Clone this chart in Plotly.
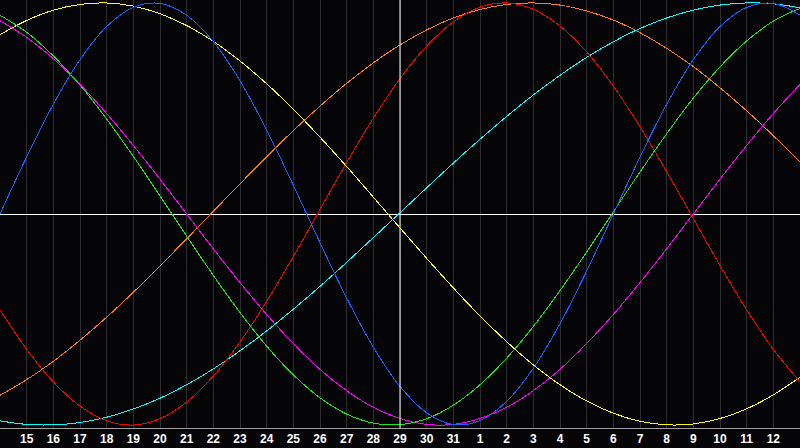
import plotly.graph_objects as go

# day index 0..30 across the chart; label for each day
day_labels = [14, 15, 16, 17, 18, 19, 20, 21, 22, 23, 24, 25, 26, 27, 28, 29, 30, 31,
              1, 2, 3, 4, 5, 6, 7, 8, 9, 10, 11, 12, 13]
days = list(range(31))

physical = [0, 0.27, 0.52, 0.731, 0.888, 0.979, 0.998, 0.942, 0.817, 0.631, 0.398, 0.136,
            -0.136, -0.398, -0.631, -0.817, -0.942, -0.998, -0.979, -0.888, -0.731, -0.52,
            -0.27, 0, 0.27, 0.52, 0.731, 0.888, 0.979, 0.998, 0.942]
emotional = [-0.454, -0.641, -0.796, -0.91, -0.98, -1, -0.97, -0.891, -0.768, -0.606, -0.414,
             -0.201, 0.022, 0.244, 0.454, 0.641, 0.796, 0.91, 0.98, 1, 0.97, 0.891, 0.768,
             0.606, 0.414, 0.201, -0.022, -0.244, -0.454, -0.641, -0.796]
intellectual = [0.942, 0.861, 0.749, 0.611, 0.45, 0.273, 0.086, -0.105, -0.291, -0.467, -0.626,
                -0.762, -0.871, -0.948, -0.991, -0.998, -0.97, -0.906, -0.809, -0.683, -0.533,
                -0.363, -0.18, 0.01, 0.199, 0.38, 0.549, 0.697, 0.82, 0.914, 0.974]
intuitive = [0.916, 0.837, 0.736, 0.614, 0.476, 0.325, 0.165, 0, -0.165, -0.325, -0.476, -0.614,
             -0.736, -0.837, -0.916, -0.969, -0.997, -0.997, -0.969, -0.916, -0.837, -0.736,
             -0.614, -0.476, -0.325, -0.165, 0, 0.165, 0.325, 0.476, 0.614]
aesthetic = [0.85, 0.917, 0.966, 0.993, 1, 0.985, 0.949, 0.893, 0.818, 0.725, 0.617, 0.496,
             0.364, 0.225, 0.08, -0.066, -0.21, -0.35, -0.483, -0.605, -0.715, -0.809, -0.886,
             -0.944, -0.982, -0.999, -0.995, -0.969, -0.923, -0.857, -0.773]
awareness = [-0.859, -0.785, -0.698, -0.598, -0.489, -0.371, -0.246, -0.118, 0.013, 0.143,
             0.271, 0.395, 0.511, 0.619, 0.716, 0.801, 0.872, 0.929, 0.969, 0.993, 1, 0.99,
             0.962, 0.919, 0.859, 0.785, 0.698, 0.598, 0.489, 0.371, 0.246]
spiritual = [-0.98, -0.997, -0.999, -0.988, -0.963, -0.924, -0.873, -0.809, -0.734, -0.648,
             -0.554, -0.451, -0.343, -0.229, -0.112, 0.006, 0.124, 0.241, 0.354, 0.462, 0.564,
             0.657, 0.742, 0.816, 0.879, 0.929, 0.966, 0.99, 1, 0.996, 0.977]

series = [
    ("Awareness", awareness, "#ff8000"),
    ("Aesthetic", aesthetic, "#ffff00"),
    ("Spiritual", spiritual, "#00ffff"),
    ("Emotional", emotional, "#ff0000"),
    ("Intuitive", intuitive, "#ff00ff"),
    ("Intellectual", intellectual, "#1ee61e"),
    ("Physical", physical, "#1464ff"),
]

fig = go.Figure()
for name, vals, color in series:
    fig.add_trace(go.Scatter(x=days, y=vals, mode="lines", name=name,
                             line=dict(color=color, width=1, shape="spline", smoothing=1.0),
                             hoverinfo="skip"))

bg = "#050508"
fig.update_layout(
    width=800, height=448,
    margin=dict(l=0, r=0, t=0, b=20, pad=0),
    paper_bgcolor=bg, plot_bgcolor=bg,
    showlegend=False,
    xaxis=dict(range=[0, 30], tickmode="array", tickvals=days[1:30],
               ticktext=[str(d) for d in day_labels[1:30]],
               showgrid=True, gridcolor="#2e2e32", gridwidth=1, zeroline=False,
               showline=True, linecolor="#a0a0a0", linewidth=1, mirror=True,
               ticks="", ticklen=0,
               tickfont=dict(family="Liberation Sans", size=12, color="white", weight="bold")),
    yaxis=dict(range=[-1.014, 1.014], showgrid=False, showticklabels=False, ticks="",
               zeroline=True, zerolinecolor="#ffffff", zerolinewidth=1,
               showline=True, linecolor="#a0a0a0", linewidth=1, mirror=True),
)
fig.add_shape(type="line", xref="x", yref="paper", x0=15, x1=15, y0=0, y1=1,
              line=dict(color="#ffffff", width=1), layer="above")

css_js = ("var s=document.createElement('style');"
          "s.innerHTML='html,body{margin:0;padding:0;overflow:hidden;background:#050508;}"
          ".scatterlayer path, .gridlayer path, .zerolinelayer path"
          "{shape-rendering:crispEdges;}';"
          "document.head.appendChild(s);")
fig.write_html("out.html", post_script=css_js, config={"displayModeBar": False})
